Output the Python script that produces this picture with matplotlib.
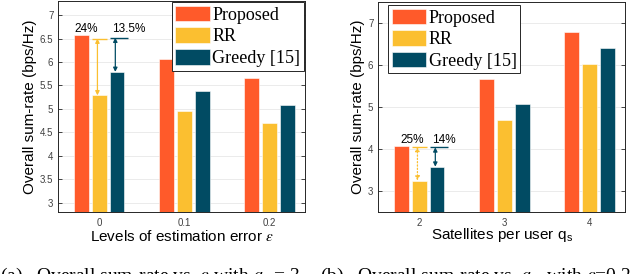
import numpy as np
import matplotlib
matplotlib.use("Agg")
import matplotlib.pyplot as plt

plt.rcParams['font.family'] = ['Liberation Sans', 'DejaVu Sans']
plt.rcParams['mathtext.fontset'] = 'stix'

# data
series = ['Proposed', 'RR', 'Greedy [15]']
colors = ['#FF5A2A', '#FBBF30', '#014B63']

err_levels = ['0', '0.1', '0.2']
rate_err = {
    'Proposed': [6.57, 6.07, 5.67],
    'RR': [5.29, 4.96, 4.69],
    'Greedy [15]': [5.79, 5.39, 5.08],
}

sat_counts = ['2', '3', '4']
rate_sat = {
    'Proposed': [4.08, 5.67, 6.79],
    'RR': [3.25, 4.69, 6.03],
    'Greedy [15]': [3.58, 5.08, 6.40],
}

gain_labels_a = ['24%', '13.5%']
gain_labels_b = ['25%', '14%']

offsets = [-0.21, 0.0, 0.21]
width = 0.175


def style_axes(ax, ylim, yticks, xticklabels):
    ax.set_ylim(*ylim)
    ax.set_xlim(-0.48, 2.42)
    ax.set_yticks(yticks)
    ax.set_yticklabels([f'{t:g}' for t in yticks])
    ax.set_xticks(range(len(xticklabels)))
    ax.set_xticklabels(xticklabels)
    ax.tick_params(direction='in', length=3, width=0.6, labelsize=7,
                   colors='#262626', labelcolor='#404040', right=True, top=False)
    ax.tick_params(axis='x', pad=4)
    ax.yaxis.grid(True, color='#e8e8e8', lw=0.6)
    ax.set_axisbelow(True)
    for s in ax.spines.values():
        s.set_color('#262626')
        s.set_linewidth(0.7)
    ax.set_ylabel('Overall sum-rate (bps/Hz)', fontsize=11, labelpad=2)


def draw_bars(ax, data):
    x = np.arange(3)
    for name, off, c in zip(series, offsets, colors):
        ax.bar(x + off, data[name], width, color=c, edgecolor='white',
               linewidth=0.4, label=name, zorder=2)


def gain_marker(ax, i, top_y, base, k, color, ls='-', span=None):
    xc = i + offsets[k]
    lo, hi = (xc - width / 2, xc + width / 2) if span is None else span
    ax.hlines(top_y, lo, hi, colors=color, lw=1.0, zorder=3)
    ax.annotate('', xy=(xc - 0.02, base), xytext=(xc - 0.02, top_y),
                arrowprops=dict(arrowstyle='<|-|>', color=color, lw=0.9,
                                ls=ls, mutation_scale=6, shrinkA=0, shrinkB=0),
                zorder=3)


def add_legend(ax, loc, anchor):
    leg = ax.legend(loc=loc, bbox_to_anchor=anchor,
                    prop={'family': 'Liberation Serif', 'size': 13},
                    handlelength=1.9, handleheight=0.95, labelspacing=0.2,
                    handletextpad=0.15, borderpad=0.2, borderaxespad=0.0,
                    fancybox=False, framealpha=1, edgecolor='#262626')
    leg.get_frame().set_linewidth(0.7)


fig = plt.figure(figsize=(6.4, 2.74), dpi=100)
ax1 = fig.add_axes([0.091, 0.226, 0.386, 0.770])
ax2 = fig.add_axes([0.591, 0.226, 0.386, 0.767])

# (a)
draw_bars(ax1, rate_err)
style_axes(ax1, (2.8, 7.3), [3, 3.5, 4, 4.5, 5, 5.5, 6, 6.5, 7], err_levels)
ax1.set_xlabel(r'Levels of estimation error $\epsilon$', fontsize=11, labelpad=1)
gain_marker(ax1, 0, 6.50, rate_err['RR'][0], 1, colors[1])
gain_marker(ax1, 0, 6.52, rate_err['Greedy [15]'][0], 2, colors[2],
            span=(offsets[2] - width / 2, offsets[2] + width / 2 + 0.04))
ax1.text(-0.15, 6.71, gain_labels_a[0], ha='center', va='center', fontsize=8.5)
ax1.text(0.35, 6.71, gain_labels_a[1], ha='center', va='center', fontsize=8.5)
add_legend(ax1, 'upper right', (0.995, 0.995))

# (b)
draw_bars(ax2, rate_sat)
style_axes(ax2, (2.5, 7.5), [3, 4, 5, 6, 7], sat_counts)
ax2.set_xlabel(r'Satellites per user q$_\mathregular{s}$', fontsize=11, labelpad=-1)
gain_marker(ax2, 0, 4.05, rate_sat['RR'][0], 1, colors[1], ls=':')
gain_marker(ax2, 0, 4.04, rate_sat['Greedy [15]'][0], 2, colors[2],
            span=(offsets[2] - width / 2, offsets[2] + width / 2 + 0.04))
ax2.text(-0.08, 4.22, gain_labels_b[0], ha='center', va='center', fontsize=8.5)
ax2.text(0.29, 4.22, gain_labels_b[1], ha='center', va='center', fontsize=8.5)
add_legend(ax2, 'upper left', (0.04, 0.985))

# captions (cut by the bottom edge as in the source page)
cap_font = dict(family='Liberation Serif', size=14, va='top', ha='left')
fig.text(0.0, 0.030, r'(a)   Overall sum-rate vs. $\epsilon$ with $q_s$ = 3', **cap_font)
fig.text(0.500, 0.030, r'(b)   Overall sum-rate vs. $q_s$  with $\epsilon$=0.2', **cap_font)

fig.savefig('out.png', dpi=100)
